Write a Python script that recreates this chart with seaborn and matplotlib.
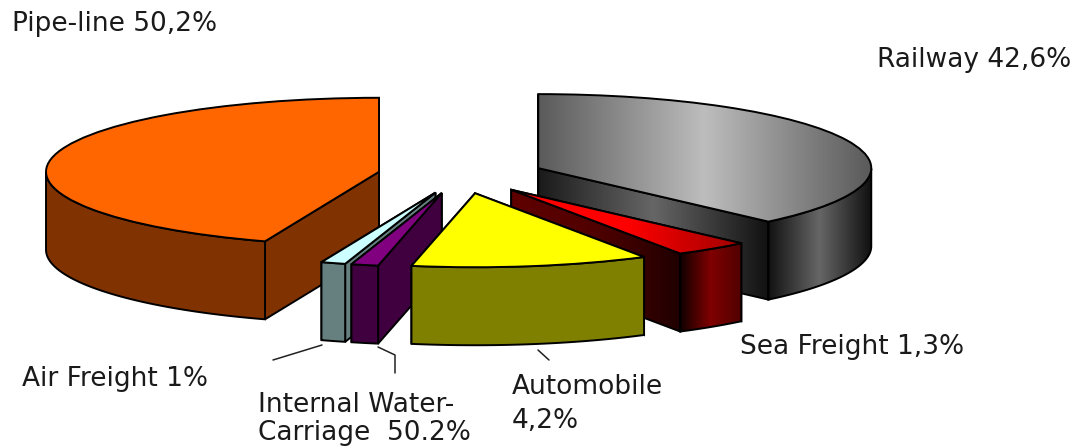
import numpy as np
import seaborn as sns
from matplotlib import pyplot as plt
from matplotlib.patches import Polygon

# slice shares as drawn in the picture (they do not follow the printed labels)
categories = ['Railway', 'Sea Freight', 'Automobile', 'Internal Water-Carriage', 'Air Freight', 'Pipe-line']
shares = [37.86, 3.67, 11.53, 1.31, 1.19, 44.44]
explode = [0.25, 0.25, 0.25, 0.25, 0.25, 0.25]

label_texts = ['Pipe-line 50,2%', 'Railway 42,6%', 'Sea Freight 1,3%', 'Air Freight 1%',
               'Internal Water-', 'Carriage  50.2%', 'Automobile', '4,2%']

W, H = 1089, 446
CX, CY = 461, 175      # pie centre in pixels
RX, RY = 333, 74       # ellipse radii in pixels
DEPTH = 78 / RY

sns.set_style('white')
plt.rcParams['font.family'] = ['DejaVu Sans']

top_colors = ['#bbbbbb', '#ff0000', '#ffff00', '#800080', '#ccffff', '#ff6600']
side_colors = ['#333333', '#4d0000', '#808000', '#400040', '#668080', '#803300']

# gradients for the shaded slices
top_grad = {'Railway': ['#5a5a5a', '#bdbdbd', '#5a5a5a'],
            'Sea Freight': ['#ff0000', '#ff0000', '#a00000']}
radial_grad = {'Railway': ['#1a1a1a', '#666666', '#111111'],
               'Sea Freight': ['#600000', '#500000', '#200000']}
wall_grad = {'Railway': ['#111111', '#666666', '#111111'],
             'Sea Freight': ['#100000', '#800000', '#500000']}

draw_order = ['Pipe-line', 'Railway', 'Sea Freight', 'Air Freight', 'Internal Water-Carriage', 'Automobile']


def px(x, y):
    return (x - CX) / RX, (CY - y) / RY


def fill(ax, poly, colors, z):
    # polygon with a left to right gradient clipped to it
    x0, x1 = poly.get_xy()[:, 0].min(), poly.get_xy()[:, 0].max()
    y0, y1 = poly.get_xy()[:, 1].min(), poly.get_xy()[:, 1].max()
    cmap = sns.blend_palette(colors, as_cmap=True)
    im = ax.imshow(np.linspace(0, 1, 256)[None, :], cmap=cmap, extent=(x0, x1, y0, y1),
                   aspect='auto', zorder=z, interpolation='bilinear')
    im.set_clip_path(poly)


fig = plt.figure(figsize=(W / 100, H / 100), dpi=100)
ax = fig.add_axes([0, 0, 1, 1])

wedges, _ = ax.pie(shares, explode=explode, startangle=90, counterclock=False, colors=top_colors,
                   wedgeprops=dict(edgecolor='black', linewidth=1.4))

for w, name, side in zip(wedges, categories, side_colors):
    base = draw_order.index(name) * 10
    cx, cy = w.center
    t = np.radians(np.linspace(w.theta1, w.theta2, 200))
    xa, ya = np.cos(t) + cx, np.sin(t) + cy

    # radial faces, the one further back first
    ends = sorted([0, -1], key=lambda i: -ya[i])
    for j, i in enumerate(ends):
        pts = [(cx, cy), (xa[i], ya[i]), (xa[i], ya[i] - DEPTH), (cx, cy - DEPTH)]
        face = Polygon(pts, closed=True, facecolor=side if name not in radial_grad else 'none',
                       edgecolor='black', linewidth=1.4, zorder=base + j + 0.5)
        ax.add_patch(face)
        if name in radial_grad:
            fill(ax, face, radial_grad[name], base + j)

    # outer wall, only the part facing the viewer
    front = np.sin(t) <= 0
    xf, yf = xa[front], ya[front]
    pts = np.column_stack([np.r_[xf, xf[::-1]], np.r_[yf, yf[::-1] - DEPTH]])
    wall = Polygon(pts, closed=True, facecolor=side if name not in wall_grad else 'none',
                   edgecolor='black', linewidth=1.4, zorder=base + 3)
    ax.add_patch(wall)
    if name in wall_grad:
        fill(ax, wall, wall_grad[name], base + 2.5)

    # top face
    w.set_zorder(base + 6)
    if name in top_grad:
        w.set_facecolor('none')
        lid = Polygon(np.column_stack([np.r_[cx, xa], np.r_[cy, ya]]), closed=True,
                      facecolor='none', edgecolor='none', zorder=base + 5)
        ax.add_patch(lid)
        fill(ax, lid, top_grad[name], base + 5)

ax.set_aspect('auto')
ax.set_xlim(px(0, 0)[0], px(W, 0)[0])
ax.set_ylim(px(0, H)[1], px(0, 0)[1])

# leader lines
for xs, ys in [((273, 322), (360, 345)),
               ((378, 395, 395), (347, 355, 373)),
               ((538, 549), (350, 360))]:
    p = np.array([px(a, b) for a, b in zip(xs, ys)])
    ax.plot(p[:, 0], p[:, 1], color='#222222', lw=1.1, zorder=1)

# labels
label_x = [12, 877, 740, 22, 258, 258, 512, 512]
label_y = [24, 60, 347, 379, 405, 433, 387, 421]
for s, x, y in zip(label_texts, label_x, label_y):
    fig.text(x / W, 1 - y / H, s, fontsize=19, color='#1a1a1a', ha='left', va='center')

fig.savefig('out.png', dpi=100)
